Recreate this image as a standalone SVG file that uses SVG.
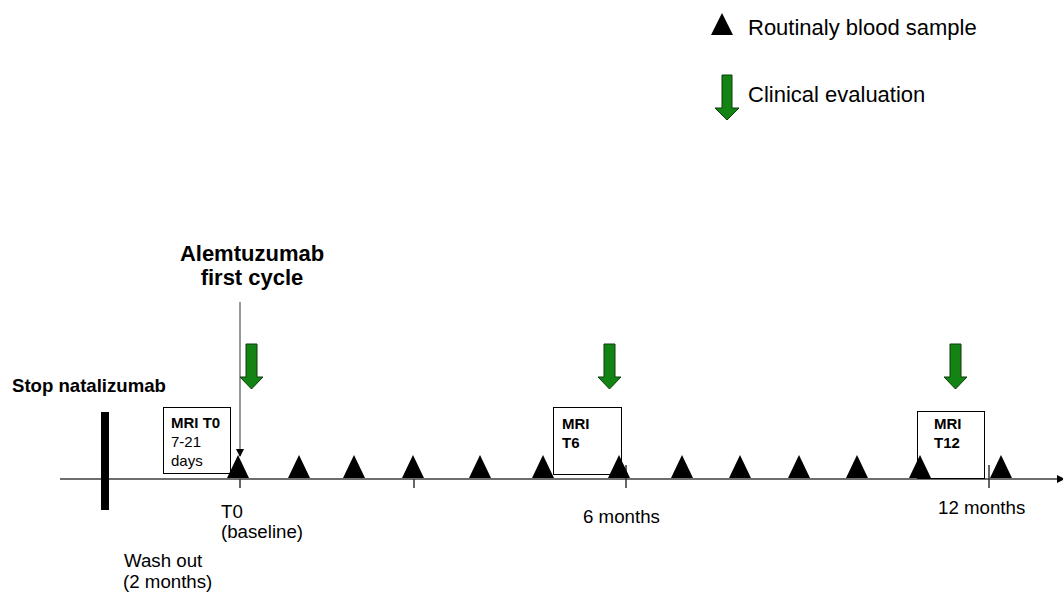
<svg xmlns="http://www.w3.org/2000/svg" width="1063" height="595" viewBox="0 0 1063 595">
<style>
text{font-family:"Liberation Sans",Arial,sans-serif;fill:#000}
.lg{font-size:22px}
.b{font-weight:bold}
.lbl{font-size:18.7px}
.mri{font-size:15px}
.tri{fill:#000}
.green{fill:#138313;stroke:#0b3d0b;stroke-width:1}
.box{fill:#fff;stroke:#000;stroke-width:1}
.axis{stroke:#6e6e6e;stroke-width:2;fill:none}
.tick{stroke:#333;stroke-width:1.5}
</style>
<defs>
<marker id="ah" markerWidth="8" markerHeight="8" refX="7" refY="4" orient="auto" markerUnits="userSpaceOnUse">
<path d="M0,0 L8,4 L0,8 Z" fill="#000"/>
</marker>
<polygon id="t" points="-11,0 0,-23 11,0"/>
</defs>
<g id="legend">
<polygon class="tri" points="711,35 722,13 733,35"/>
<text class="lg" x="748" y="35">Routinaly blood sample</text>
<polygon class="green" points="722,75 732,75 732,108 739,108 727,120 715,108 722,108"/>
<text class="lg" x="748" y="102">Clinical evaluation</text>
</g>
<g id="connectors">
<line class="axis" x1="60" y1="479" x2="1064" y2="479" marker-end="url(#ah)"/>
<line class="tick" x1="240" y1="479" x2="240" y2="488"/>
<line class="tick" x1="414" y1="479" x2="414" y2="488"/>
<line class="tick" x1="626" y1="465" x2="626" y2="488"/>
<line class="tick" x1="989" y1="465" x2="989" y2="488"/>
<line x1="240" y1="302" x2="240" y2="456" stroke="#555" stroke-width="1.2" marker-end="url(#ah)"/>
</g>
<g id="stop-natalizumab">
<text class="b" x="12" y="392" font-size="18.6">Stop natalizumab</text>
<rect x="101" y="412" width="8" height="98" fill="#000"/>
</g>
<g id="alemtuzumab">
<text class="lg b" x="252" y="261" text-anchor="middle">Alemtuzumab</text>
<text class="lg b" x="252" y="285" text-anchor="middle">first cycle</text>
</g>
<g id="clinical-evals">
<polygon class="green" points="246,344 257,344 257,377 263,377 251.5,389 240,377 246,377"/>
<polygon class="green" points="604,344 615,344 615,377 621,377 609.5,389 598,377 604,377"/>
<polygon class="green" points="950,344 961,344 961,377 967,377 955.5,389 944,377 950,377"/>
</g>
<g id="mri-t0">
<rect class="box" x="163.5" y="407.5" width="67" height="66"/>
<text class="mri b" x="171" y="428">MRI T0</text>
<text class="mri" x="171" y="447">7-21</text>
<text class="mri" x="171" y="466">days</text>
</g>
<g id="mri-t6">
<rect class="box" x="553.5" y="407.5" width="68" height="67"/>
<text class="mri b" x="562" y="429">MRI</text>
<text class="mri b" x="562" y="448">T6</text>
</g>
<g id="mri-t12">
<rect class="box" x="917.5" y="411.5" width="67" height="67"/>
<text class="mri b" x="934" y="429">MRI</text>
<text class="mri b" x="934" y="448">T12</text>
</g>
<g id="blood-samples" class="tri">
<use href="#t" x="238" y="478"/>
<use href="#t" x="299" y="478"/>
<use href="#t" x="354" y="478"/>
<use href="#t" x="413" y="478"/>
<use href="#t" x="480" y="478"/>
<use href="#t" x="543" y="478"/>
<use href="#t" x="619" y="478"/>
<use href="#t" x="682" y="478"/>
<use href="#t" x="740" y="478"/>
<use href="#t" x="799" y="478"/>
<use href="#t" x="857" y="478"/>
<use href="#t" x="920" y="478"/>
<use href="#t" x="1001" y="478"/>
</g>
<g id="labels">
<text class="lbl" x="221" y="518">T0</text>
<text class="lbl" x="221" y="538">(baseline)</text>
<text class="lbl" x="583" y="523">6 months</text>
<text class="lbl" x="938" y="514">12 months</text>
<text class="lbl" x="124" y="567">Wash out</text>
<text class="lbl" x="123" y="588">(2 months)</text>
</g>
</svg>
